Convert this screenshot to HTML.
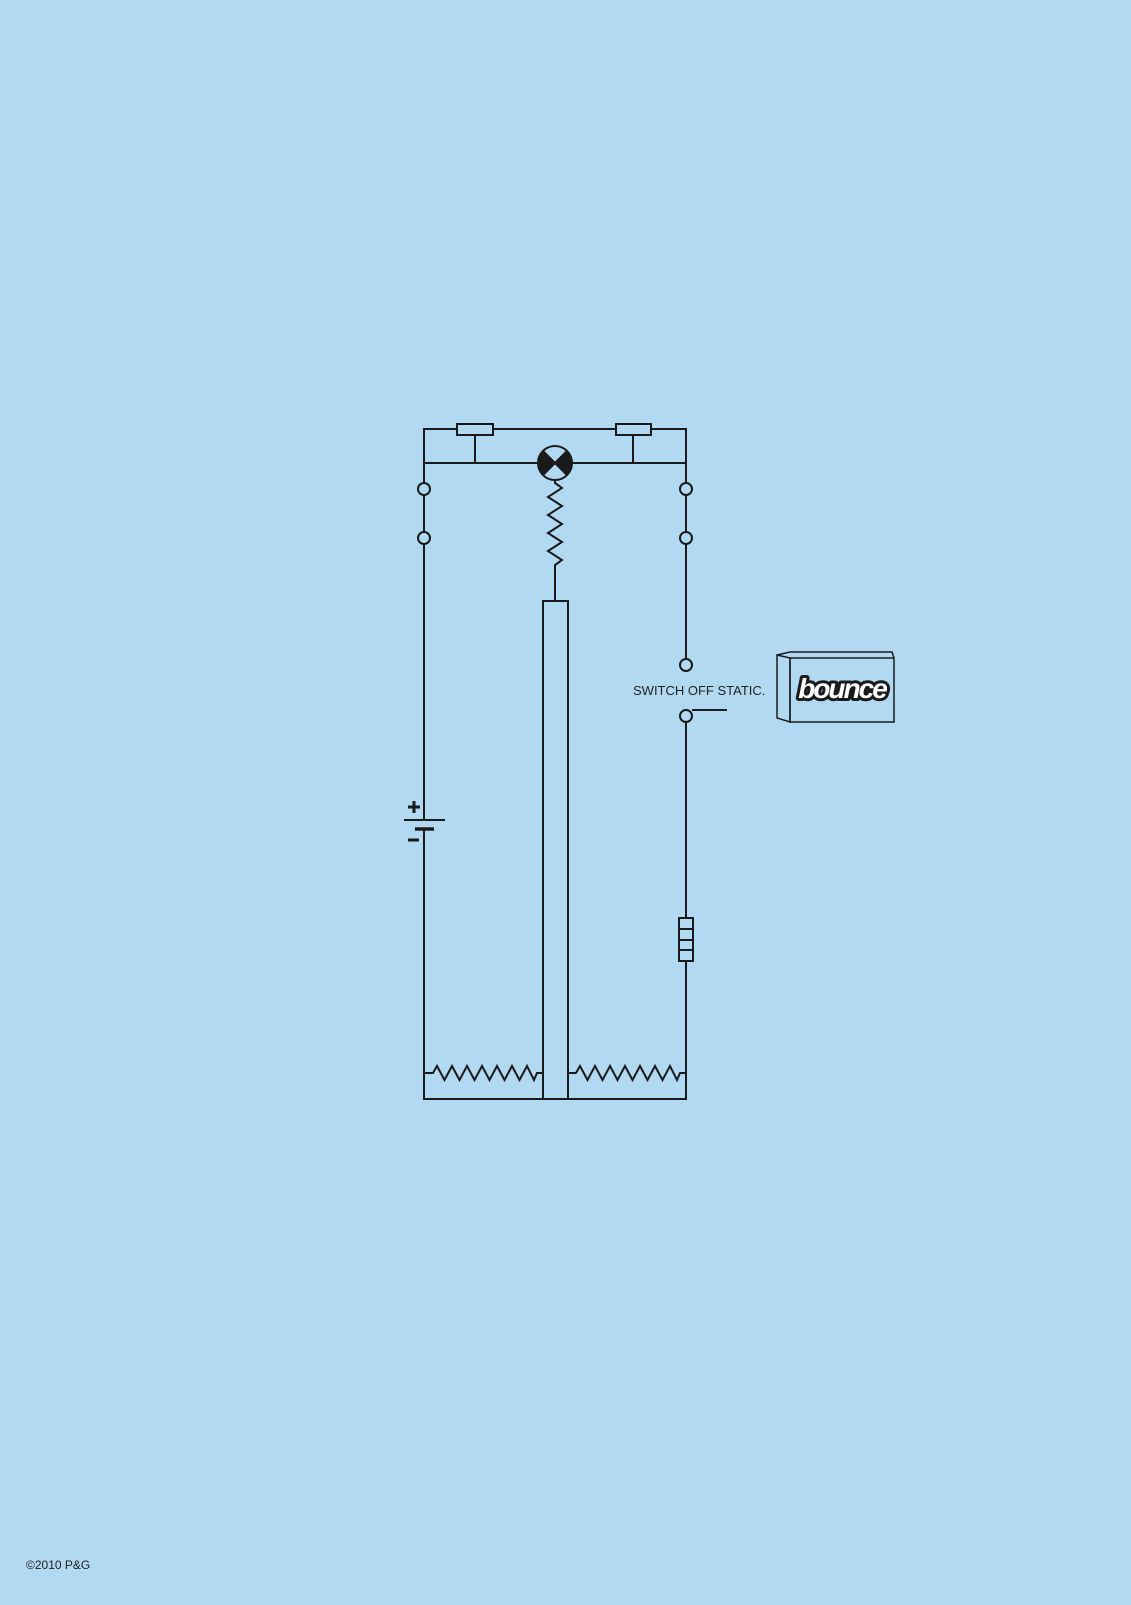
<!DOCTYPE html>
<html><head><meta charset="utf-8"><style>
html,body{margin:0;padding:0;background:#b3d9f0;}
body{width:1131px;height:1600px;overflow:hidden;}
</style></head><body>
<svg width="1131" height="1600" viewBox="0 0 1131 1600" xmlns="http://www.w3.org/2000/svg">
<rect width="1131" height="1600" fill="#b3d9f0"/>
<g fill="none" stroke="#1a1a1a" stroke-width="2">
<path d="M424 483 V429 H457 M493 429 H616 M651 429 H686 V483"/>
<rect x="457" y="424" width="36" height="11"/>
<rect x="616" y="424" width="35" height="11"/>
<path d="M424 463 H538 M572 463 H686 M475 435 V463 M633 435 V463"/>
<circle cx="555" cy="463" r="17"/>
<path d="M543 451 L555 463 L543 475 A17 17 0 0 1 543 451 Z M567 451 L555 463 L567 475 A17 17 0 0 0 567 451 Z" fill="#1a1a1a" stroke-width="1"/>
<path d="M543 451 L567 475 M567 451 L543 475"/>
<path d="M555 480 V483 L562 488 L548 497 L562 506 L548 515 L562 524 L548 533 L562 542 L548 551 L562 560 L555 565 V601"/>
<rect x="543" y="601" width="25" height="498"/>
<circle cx="424" cy="489" r="6"/>
<circle cx="424" cy="538" r="6"/>
<path d="M424 495 V532 M424 544 V820 M424 829 V1099 H543"/>
<circle cx="686" cy="489" r="6"/>
<circle cx="686" cy="538" r="6"/>
<circle cx="686" cy="665" r="6"/>
<circle cx="686" cy="716" r="6"/>
<path d="M686 495 V532 M686 544 V659 M686 722 V918 M686 961 V1099 H568 M692 710 H727"/>
<rect x="679" y="918" width="14" height="43"/>
<path d="M679 929 H693 M679 940 H693 M679 950 H693"/>
<path d="M404 820 H445"/>
<path d="M415 829 H434" stroke-width="3.5"/>
<path d="M414 801 V813 M408 807 H420 M408 840 H419" stroke-width="3"/>
<path d="M424 1073 H433 L437 1066 L444.5 1080 L452 1066 L459.5 1080 L467 1066 L474.5 1080 L482 1066 L489.5 1080 L497 1066 L504.5 1080 L512 1066 L519.5 1080 L527 1066 L534 1080 L537 1073 H543"/>
<path d="M568 1073 H576 L580 1066 L587.5 1080 L595 1066 L602.5 1080 L610 1066 L617.5 1080 L625 1066 L632.5 1080 L640 1066 L647.5 1080 L655 1066 L662.5 1080 L670 1066 L677 1080 L680 1073 H686"/>
<path d="M777 655 L790 658 V722 L777 718 Z M777 655 L790 652 H892 L894 658" stroke-width="1.5"/>
<rect x="790" y="658" width="104" height="64" stroke-width="1.5"/>
</g>
<text x="633" y="695" font-family="Liberation Sans, sans-serif" font-size="13" fill="#222">SWITCH OFF STATIC.</text>
<text x="842" y="698" text-anchor="middle" font-family="Liberation Sans, sans-serif" font-size="28" font-weight="bold" font-style="italic" fill="#fff" stroke="#1a1a1a" stroke-width="6" stroke-linejoin="round" paint-order="stroke" letter-spacing="-2">bounce</text>
<text x="26" y="1569" font-family="Liberation Sans, sans-serif" font-size="12" fill="#222">©2010 P&amp;G</text>
</svg>
</body></html>
